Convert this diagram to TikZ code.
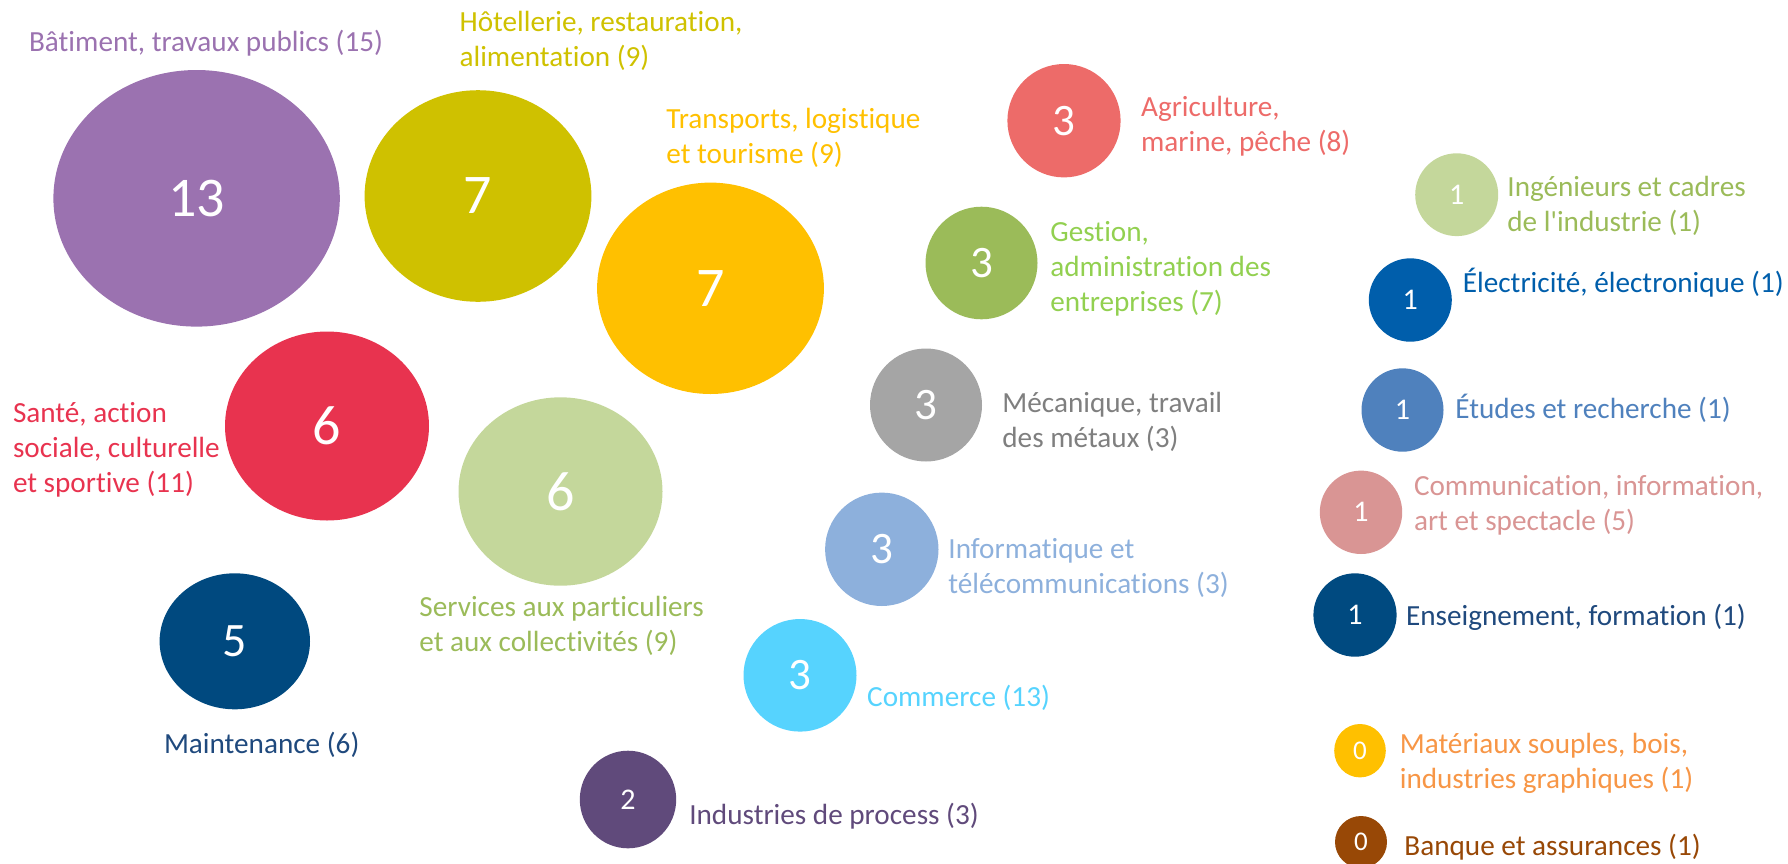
\documentclass[tikz,border=0pt]{standalone}
\usepackage{fontspec}
\newfontfamily\carl{Carlito}[Ligatures=CommonOff]
\usetikzlibrary{shapes.geometric}
\definecolor{cbat}{HTML}{9B72B0}
\definecolor{chot}{HTML}{CFC100}
\definecolor{ctra}{HTML}{FFC000}
\definecolor{csan}{HTML}{E8334F}
\definecolor{cser}{HTML}{C4D79B}
\definecolor{tser}{HTML}{9BBB59}
\definecolor{cmai}{HTML}{00497F}
\definecolor{tmai}{HTML}{1F497D}
\definecolor{cagr}{HTML}{ED6B69}
\definecolor{cges}{HTML}{9BBB59}
\definecolor{tges}{HTML}{92D050}
\definecolor{cmec}{HTML}{A5A5A5}
\definecolor{tmec}{HTML}{7F7F7F}
\definecolor{cinf}{HTML}{8DB0DC}
\definecolor{ccom}{HTML}{56D3FE}
\definecolor{cind}{HTML}{604A7B}
\definecolor{cing}{HTML}{C4D79B}
\definecolor{ting}{HTML}{9BBB59}
\definecolor{cele}{HTML}{005EAB}
\definecolor{cetu}{HTML}{4F81BD}
\definecolor{ccmi}{HTML}{D99594}
\definecolor{cens}{HTML}{004A80}
\definecolor{tens}{HTML}{1F497D}
\definecolor{cmat}{HTML}{FFC000}
\definecolor{tmat}{HTML}{F79646}
\definecolor{cban}{HTML}{984806}
\begin{document}
\begin{tikzpicture}[x=0.5pt,y=-0.5pt,
  bub/.style={ellipse, inner sep=0pt, text=white},
  numA/.style={font=\carl\fontsize{28}{30}\selectfont},
  numB/.style={font=\carl\fontsize{24}{26}\selectfont},
  numC/.style={font=\carl\fontsize{22.5}{24}\selectfont},
  numD/.style={font=\carl\fontsize{15}{17}\selectfont},
  numE/.style={font=\carl\fontsize{13.5}{15}\selectfont},
  lab/.style={anchor=base west, inner sep=0pt, align=left, font=\carl\fontsize{14.6}{17.5}\selectfont}]
\useasboundingbox (0,0) rectangle (1788,863);
\clip (0,0) rectangle (1788,863);
% bubbles
\node[bub, numA, fill=cbat, minimum width=143.2pt, minimum height=128.3pt] (bat) at (196.6,198.3) {13};
\node[bub, numA, fill=chot, minimum width=113.4pt, minimum height=105.8pt] (hot) at (478,196) {7};
\node[bub, numA, fill=ctra, minimum width=113.4pt, minimum height=105.7pt] (tra) at (710.5,288.3) {7};
\node[bub, numA, fill=csan, minimum width=102pt, minimum height=94.5pt] (san) at (327,426) {6};
\node[bub, numA, fill=cser, minimum width=102pt, minimum height=94.2pt] (ser) at (560.5,491.5) {6};
\node[bub, numB, fill=cmai, minimum width=75.2pt, minimum height=68pt] (mai) at (234.8,641.3) {5};
\node[bub, numC, fill=cagr, minimum width=56.6pt, minimum height=56.7pt] (agr) at (1064,120.7) {3};
\node[bub, numC, fill=cges, minimum width=56pt, minimum height=56.3pt] (ges) at (981.5,263) {3};
\node[bub, numC, fill=cmec, minimum width=56pt, minimum height=56.5pt] (mec) at (926,405) {3};
\node[bub, numC, fill=cinf, minimum width=56.7pt, minimum height=56.7pt] (inf) at (881.8,549.3) {3};
\node[bub, numC, fill=ccom, minimum width=56.5pt, minimum height=56.3pt] (com) at (800,675.3) {3};
\node[bub, numD, fill=cind, minimum width=48.2pt, minimum height=48.8pt] (ind) at (628,799.5) {2};
\node[bub, numD, fill=cing, minimum width=41.5pt, minimum height=41.4pt] (ing) at (1456.7,194.7) {1};
\node[bub, numD, fill=cele, minimum width=41.5pt, minimum height=41.7pt] (ele) at (1410.3,300) {1};
\node[bub, numD, fill=cetu, minimum width=41pt, minimum height=41.7pt] (etu) at (1402.5,410) {1};
\node[bub, numD, fill=ccmi, minimum width=41.2pt, minimum height=41.7pt] (cmi) at (1361,512.3) {1};
\node[bub, numD, fill=cens, minimum width=41.6pt, minimum height=41.7pt] (ens) at (1355,615) {1};
\node[bub, numE, fill=cmat, minimum width=25.8pt, minimum height=26.7pt] (mat) at (1360,750.7) {0};
\node[bub, numE, fill=cban, minimum width=26pt, minimum height=26pt] (ban) at (1361,842) {0};
% labels (anchored at the baseline of their last line)
\node[lab, text=cbat] (lbat) at (28.7,51) {Bâtiment, travaux publics (15)};
\node[lab, text=chot] (lhot) at (459.2,66.7) {Hôtellerie, restauration,\\alimentation (9)};
\node[lab, text=ctra] (ltra) at (666,163.3) {Transports, logistique\\et tourisme (9)};
\node[lab, text=cagr] (lagr) at (1140.7,151) {Agriculture,\\marine, pêche (8)};
\node[lab, text=ting] (ling) at (1507,231.7) {Ingénieurs et cadres\\de l'industrie (1)};
\node[lab, text=tges] (lges) at (1050,311.7) {Gestion,\\administration des\\entreprises (7)};
\node[lab, text=cele] (lele) at (1462.5,292.5) {Électricité, électronique (1)};
\node[lab, text=tmec] (lmec) at (1002,447) {Mécanique, travail\\des métaux (3)};
\node[lab, text=cetu] (letu) at (1455,418.3) {Études et recherche (1)};
\node[lab, text=csan] (lsan) at (12.6,492.7) {Santé, action\\sociale, culturelle\\et sportive (11)};
\node[lab, text=tser] (lser) at (419,651.7) {Services aux particuliers\\et aux collectivités (9)};
\node[lab, text=cinf] (linf) at (948,593.3) {Informatique et\\télécommunications (3)};
\node[lab, text=ccmi] (lcmi) at (1413.6,530) {Communication, information,\\art et spectacle (5)};
\node[lab, text=tens] (lens) at (1405.7,625) {Enseignement, formation (1)};
\node[lab, text=ccom] (lcom) at (866.8,706) {Commerce (13)};
\node[lab, text=tmai] (lmai) at (163.6,753.3) {Maintenance (6)};
\node[lab, text=tmat] (lmat) at (1399.4,788.3) {Matériaux souples, bois,\\industries graphiques (1)};
\node[lab, text=cind] (lind) at (688.9,824) {Industries de process (3)};
\node[lab, text=cban] (lban) at (1404,855) {Banque et assurances (1)};
\end{tikzpicture}
\end{document}
